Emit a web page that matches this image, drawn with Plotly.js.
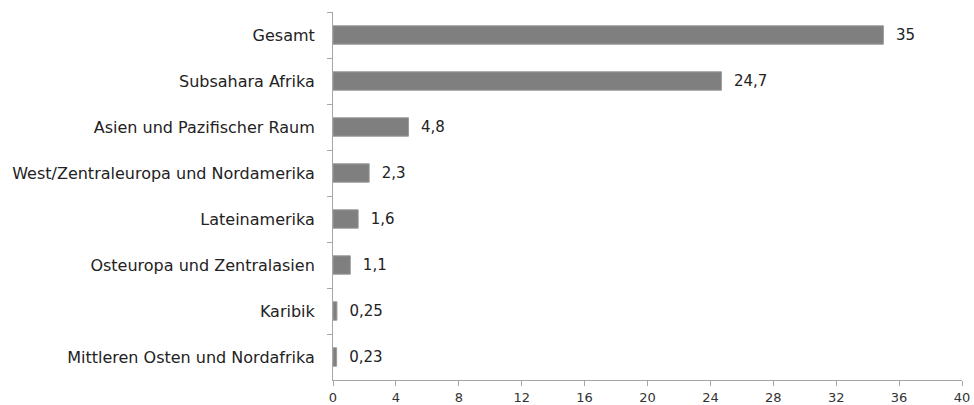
<!DOCTYPE html>
<html>
<head>
<meta charset="utf-8">
<script src="https://cdn.plot.ly/plotly-3.0.1.min.js"></script>
<style>html,body{margin:0;padding:0;background:#fff;}#chart{width:974px;height:405px;}</style>
</head>
<body>
<div id="chart"></div>
<script>
const categories = ["Gesamt", "Subsahara Afrika", "Asien und Pazifischer Raum", "West/Zentraleuropa und Nordamerika", "Lateinamerika", "Osteuropa und Zentralasien", "Karibik", "Mittleren Osten und Nordafrika"];
const values = [35, 24.7, 4.8, 2.3, 1.6, 1.1, 0.25, 0.23];
const xTicks = [0, 4, 8, 12, 16, 20, 24, 28, 32, 36, 40];

const labels = values.map(v => "  " + String(v).replace(".", ","));

const trace = {
  type: "bar",
  orientation: "h",
  y: categories,
  x: values,
  text: labels,
  textposition: "outside",
  cliponaxis: false,
  textfont: {family: "DejaVu Sans, Verdana, sans-serif", size: 15, color: "#222"},
  marker: {color: "#7f7f7f", line: {color: "#9a9a9a", width: 1}},
  width: 0.4,
  hoverinfo: "none"
};

const layout = {
  width: 974, height: 405,
  margin: {l: 333, r: 12, t: 12, b: 25},
  paper_bgcolor: "#fff", plot_bgcolor: "#fff",
  showlegend: false,
  font: {family: "DejaVu Sans, Verdana, sans-serif", size: 14, color: "#222"},
  xaxis: {
    range: [0, 40], tickvals: xTicks, ticktext: xTicks.map(String),
    showgrid: false, zeroline: false,
    showline: true, linecolor: "#a6a6a6", linewidth: 1,
    ticks: "outside", ticklen: 5, tickcolor: "#a6a6a6",
    tickfont: {size: 13, color: "#333"}
  },
  yaxis: {
    autorange: "reversed", type: "category",
    showgrid: false, zeroline: false,
    showline: true, linecolor: "#a6a6a6", linewidth: 1,
    ticks: "outside", ticklen: 5, tickcolor: "#a6a6a6", tickson: "boundaries",
    ticklabelstandoff: 14,
    tickfont: {size: 16, color: "#222"}
  }
};

Plotly.newPlot("chart", [trace], layout, {staticPlot: true, displayModeBar: false});
</script>
</body>
</html>
